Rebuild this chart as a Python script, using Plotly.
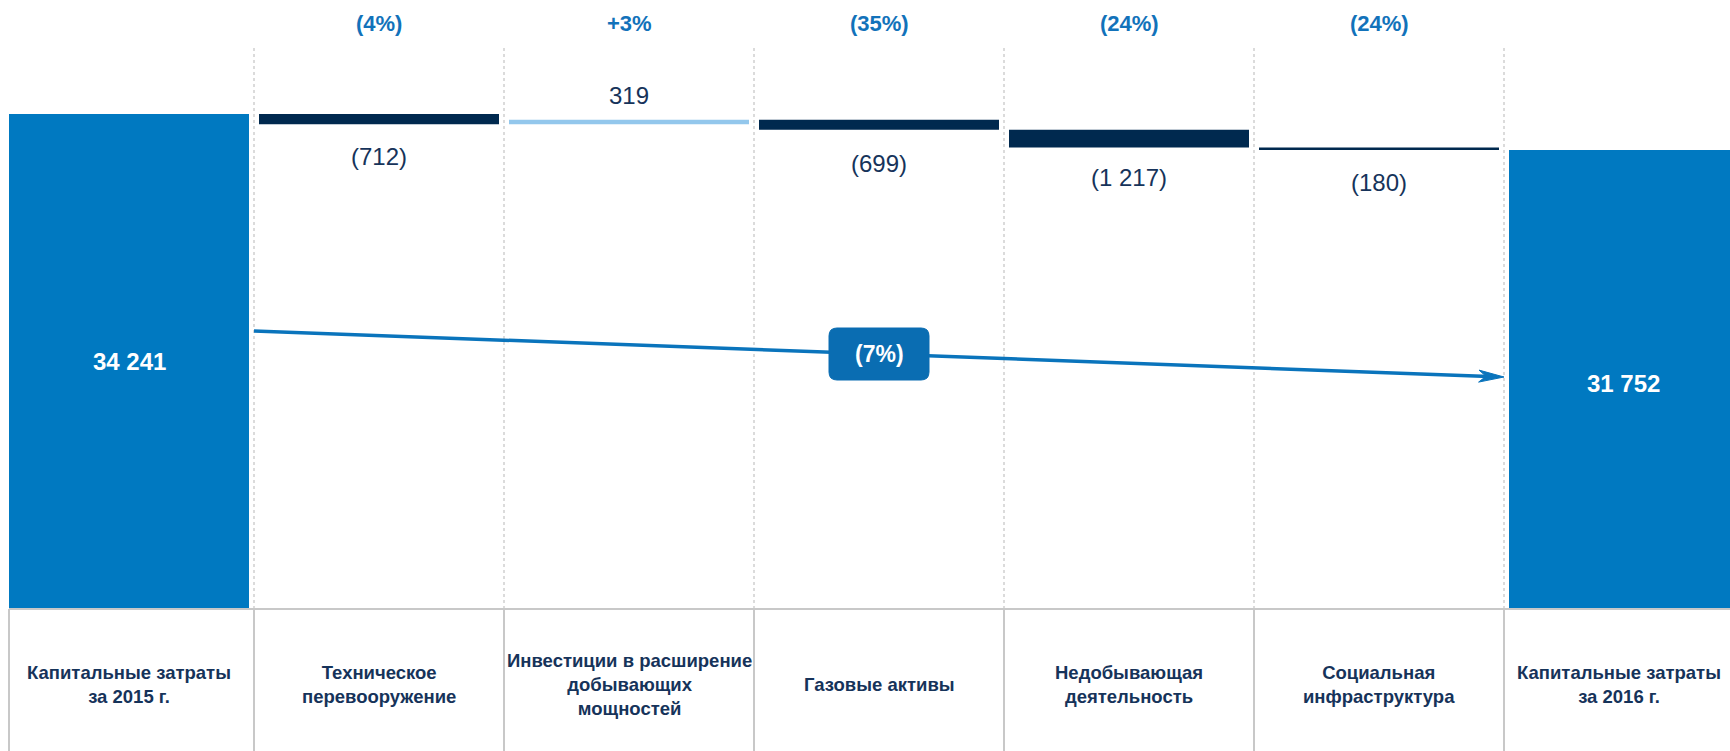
import plotly.graph_objects as go

# ---------------- data ----------------
categories = [
    "Капитальные затраты<br>за 2015 г.",
    "Техническое<br>перевооружение",
    "Инвестиции в расширение<br>добывающих<br>мощностей",
    "Газовые активы",
    "Недобывающая<br>деятельность",
    "Социальная<br>инфраструктура",
    "Капитальные затраты<br>за 2016 г.",
]
measures = ["absolute", "relative", "relative", "relative", "relative", "relative", "total"]
values = [34241, -712, 319, -699, -1217, -180, 0]
value_labels = ["34 241", "(712)", "319", "(699)", "(1 217)", "(180)", "31 752"]
pct_labels = ["", "(4%)", "+3%", "(35%)", "(24%)", "(24%)", ""]
total_change_label = "(7%)"

# ---------------- style ----------------
FONT = "Arial, Liberation Sans, sans-serif"
BLUE = "#0079C1"
NAVY = "#00294F"
LIGHT = "#93C7EC"
TEXT_NAVY = "#16335A"
PCT_BLUE = "#1272BA"
ARROW_BLUE = "#0A74BC"
BOX_BLUE = "#0A6DB2"
GRID = "#C8C8C8"

W, H = 1730, 751
PLOT_H = 609
BOTTOM = H - PLOT_H
X0, X1 = -0.516, 6.404
PX_PER_UNIT = 495.0 / 34241.0
YMAX = PLOT_H / PX_PER_UNIT

x = list(range(len(categories)))

fig = go.Figure()
fig.add_trace(go.Waterfall(
    x=x, y=values, measure=measures,
    width=0.96,
    increasing=dict(marker=dict(color=LIGHT)),
    decreasing=dict(marker=dict(color=NAVY)),
    totals=dict(marker=dict(color=BLUE)),
    connector=dict(visible=False),
    textposition="none",
    hoverinfo="skip",
))

# cumulative levels
levels = []
run = 0
for m, v in zip(measures, values):
    if m == "absolute":
        run = v
        levels.append((0, run))
    elif m == "relative":
        levels.append((run, run + v))
        run += v
    else:
        levels.append((0, run))

annotations = []
label_shift = [0, -32, 24, -34, -30, -33, 0]
total_shift = [0, 0, 0, 0, 0, 0, -4]
for i, (m, (a, b)) in enumerate(zip(measures, levels)):
    if m in ("absolute", "total"):
        annotations.append(dict(x=i, y=(a + b) / 2, xref="x", yref="y", text="<b>%s</b>" % value_labels[i],
                                showarrow=False, font=dict(family=FONT, size=24, color="white"),
                                yshift=total_shift[i],
                                xshift=-6 if i == len(categories) - 1 else 0))
    else:
        end = min(a, b) if values[i] < 0 else max(a, b)
        annotations.append(dict(x=i, y=end, xref="x", yref="y", text=value_labels[i], showarrow=False,
                                yshift=label_shift[i], yanchor="middle",
                                font=dict(family=FONT, size=24, color=TEXT_NAVY)))
    if pct_labels[i]:
        annotations.append(dict(x=i, y=1 - 24 / PLOT_H, xref="x", yref="paper",
                                text="<b>%s</b>" % pct_labels[i], showarrow=False, yanchor="middle",
                                font=dict(family=FONT, size=22, color=PCT_BLUE)))
    annotations.append(dict(x=i, y=-(684 - PLOT_H) / PLOT_H, xref="x", yref="paper",
                            text="<b>%s</b>" % categories[i], showarrow=False, yanchor="middle",
                            xshift=-10 if i == len(categories) - 1 else 0,
                            font=dict(family=FONT, size=18.5, color=TEXT_NAVY)))

# arrow + box
ys = 1 - 331 / PLOT_H
ye = 1 - 377 / PLOT_H
ymid = (ys + ye) / 2
annotations.append(dict(x=3, y=ymid, xref="x", yref="paper", text="<b>%s</b>" % total_change_label,
                        showarrow=False, font=dict(family=FONT, size=23, color="white")))

shapes = []
# dotted separators in plot area
for b in [i + 0.5 for i in range(6)]:
    shapes.append(dict(type="line", xref="x", yref="paper", x0=b, x1=b, y0=0, y1=1 - 46 / PLOT_H,
                       line=dict(color="#CFCFCF", width=1.5, dash="dot"), layer="below"))
# bottom band
def xp(v):
    return (v - X0) / (X1 - X0)
shapes.append(dict(type="line", xref="paper", yref="paper", x0=xp(-0.48), x1=1, y0=0, y1=0,
                   line=dict(color=GRID, width=2)))
for b in [-0.48] + [i + 0.5 for i in range(6)]:
    shapes.append(dict(type="line", xref="paper", yref="paper", x0=xp(b), x1=xp(b), y0=0,
                       y1=-BOTTOM / PLOT_H, line=dict(color=GRID, width=2)))
# arrow line
shapes.append(dict(type="line", xref="x", yref="paper", x0=0.5, x1=5.44, y0=ys,
                   y1=ys + (ye - ys) * (4.94 / 5.0), line=dict(color=ARROW_BLUE, width=3.5), layer="above"))
# arrow head
shapes.append(dict(type="path", xref="x", yref="paper", xsizemode="pixel", ysizemode="pixel",
                   xanchor=5.5, yanchor=ye,
                   path="M0,0 L-25,6.9 L-18,0.7 L-25.4,-5.1 Z",
                   fillcolor=ARROW_BLUE, line=dict(color=ARROW_BLUE, width=1), layer="above"))
# rounded box
shapes.append(dict(type="path", xref="x", yref="paper", xsizemode="pixel", ysizemode="pixel",
                   xanchor=3, yanchor=ymid,
                   path="M-42,-26 L42,-26 Q50,-26 50,-18 L50,18 Q50,26 42,26 L-42,26 Q-50,26 -50,18 "
                        "L-50,-18 Q-50,-26 -42,-26 Z",
                   fillcolor=BOX_BLUE, line=dict(color=BOX_BLUE, width=1), layer="above"))

fig.update_layout(
    width=W, height=H,
    margin=dict(l=0, r=0, t=0, b=BOTTOM, pad=0),
    plot_bgcolor="white", paper_bgcolor="white",
    showlegend=False,
    xaxis=dict(range=[X0, X1], visible=False, fixedrange=True),
    yaxis=dict(range=[0, YMAX], visible=False, fixedrange=True),
    annotations=annotations,
    shapes=shapes,
)

fig.write_html("out.html", config={"displayModeBar": False},
               post_script="document.body.style.margin='0px';document.body.style.overflow='hidden';")
